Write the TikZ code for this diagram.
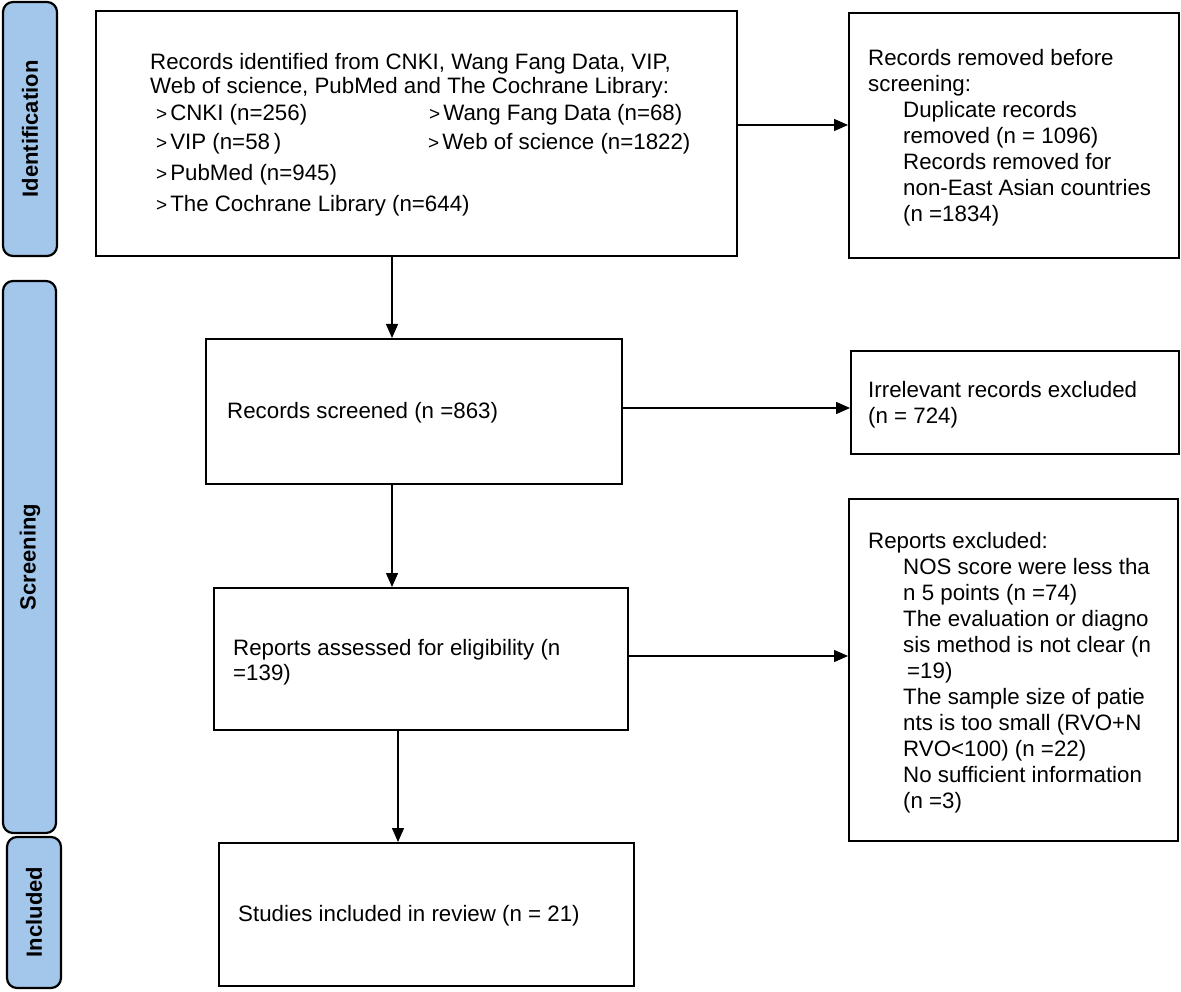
\documentclass[tikz,border=0pt]{standalone}
\usepackage{fontspec}
\setmainfont{Liberation Sans}
\usetikzlibrary{arrows.meta}
\definecolor{sidefill}{HTML}{A3C6EB}
\tikzset{
  flowbox/.style={draw=black, line width=2.4pt, fill=white},
  sidebox/.style={draw=black, line width=2.2pt, fill=sidefill, rounded corners=10pt},
  sidelabel/.style={rotate=90, font=\fontsize{22}{26}\selectfont\bfseries, inner sep=0pt},
  txt/.style={anchor=base west, inner sep=0pt, font=\fontsize{22.3}{26}\selectfont},
  arr/.style={line width=1.4pt, -{Triangle[length=14pt,width=12pt]}},
}
\newcommand{\gt}{{\fontsize{19}{20}\selectfont\textgreater}\hspace{3pt}}
\begin{document}
\begin{tikzpicture}[x=1pt,y=-1pt]
\useasboundingbox (0,0) rectangle (1181,992);
% sidebars
\draw[sidebox] (3,2) rectangle (57,256);
\draw[sidebox] (3,281) rectangle (56,833);
\draw[sidebox] (7,837) rectangle (61,988);
\node[sidelabel] (sidA) at (30,129) {Identification};
\node[sidelabel] (sidB) at (30,557) {Screening};
\node[sidelabel] (sidC) at (34,912) {Included};
% boxes
\node[flowbox, minimum width=641pt, minimum height=245pt, anchor=north west] (b1) at (95,10) {};
\node[flowbox, minimum width=330pt, minimum height=245pt, anchor=north west] (r1) at (848,12) {};
\node[flowbox, minimum width=416pt, minimum height=145pt, anchor=north west] (b2) at (205,338) {};
\node[flowbox, minimum width=328pt, minimum height=103pt, anchor=north west] (r2) at (850,350) {};
\node[flowbox, minimum width=414pt, minimum height=142pt, anchor=north west] (b3) at (213,587) {};
\node[flowbox, minimum width=329pt, minimum height=342pt, anchor=north west] (r3) at (848,498) {};
\node[flowbox, minimum width=415pt, minimum height=143pt, anchor=north west] (b4) at (218,842) {};
% box 1 text
\node[txt] (t1a) at (150,70) {Records identified from CNKI, Wang Fang Data, VIP,};
\node[txt] (t1b) at (150,94) {Web of science, PubMed and The Cochrane Library:};
\node[txt] (t1c) at (156,121) {\gt CNKI (n=256)};
\node[txt] (t1d) at (429,121) {\gt Wang Fang Data (n=68)};
\node[txt] (t1e) at (156,150) {\gt VIP (n=58\,)};
\node[txt] (t1f) at (428,150) {\gt Web of science (n=1822)};
\node[txt] (t1g) at (156,181) {\gt PubMed (n=945)};
\node[txt] (t1h) at (156,212) {\gt The Cochrane Library (n=644)};
% right box 1 text
\node[txt] (r1a) at (868,66) {Records removed before};
\node[txt] (r1b) at (868,92) {screening:};
\node[txt] (r1c) at (903,118) {Duplicate records};
\node[txt] (r1d) at (903,144) {removed (n = 1096)};
\node[txt] (r1e) at (903,170) {Records removed for};
\node[txt] (r1f) at (903,196) {non-East Asian countries};
\node[txt] (r1g) at (903,222) {(n =1834)};
% screened
\node[txt] (t2a) at (227,418) {Records screened (n =863)};
\node[txt] (r2a) at (868,397) {Irrelevant records excluded};
\node[txt] (r2b) at (868,423) {(n = 724)};
% reports
\node[txt] (t3a) at (233,655) {Reports assessed for eligibility (n};
\node[txt] (t3b) at (233,680) {=139)};
\node[txt] (r3a) at (868,548) {Reports excluded:};
\node[txt] (r3b) at (903,574) {NOS score were less tha};
\node[txt] (r3c) at (903,600) {n 5 points (n =74)};
\node[txt] (r3d) at (903,626) {The evaluation or diagno};
\node[txt] (r3e) at (903,652) {sis method is not clear (n};
\node[txt] (r3f) at (907,678) {=19)};
\node[txt] (r3g) at (903,704) {The sample size of patie};
\node[txt] (r3h) at (903,730) {nts is too small (RVO+N};
\node[txt] (r3i) at (903,756) {RVO<100) (n =22)};
\node[txt] (r3j) at (903,782) {No sufficient information};
\node[txt] (r3k) at (903,808) {(n =3)};
% studies
\node[txt] (t4a) at (238,921) {Studies included in review (n = 21)};
% connectors
\draw[arr] (b1.east |- 0,125) -- (r1.west |- 0,125);
\draw[arr] (b1.south -| 392,0) -- (b2.north -| 392,0);
\draw[arr] (b2.east |- 0,408) -- (r2.west |- 0,408);
\draw[arr] (b2.south -| 392,0) -- (b3.north -| 392,0);
\draw[arr] (b3.east |- 0,656) -- (r3.west |- 0,656);
\draw[arr] (b3.south -| 398,0) -- (b4.north -| 398,0);
\end{tikzpicture}
\end{document}
